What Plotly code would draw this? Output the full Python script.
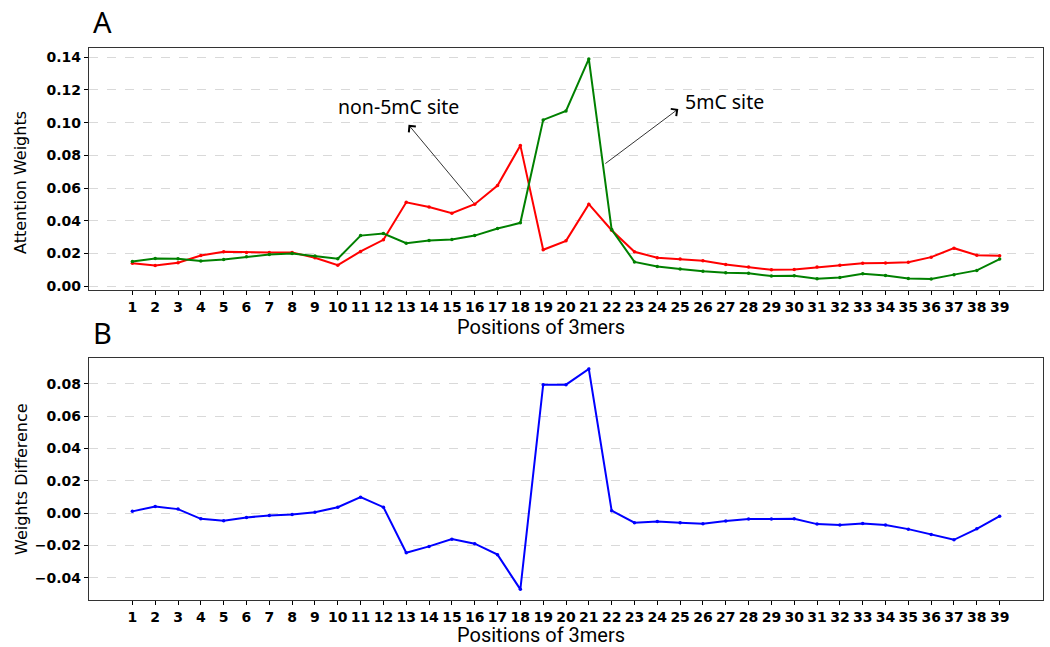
import plotly.graph_objects as go
from plotly.subplots import make_subplots

# 3-mer positions along the sequence window
positions = list(range(1, 40))

# Attention weights at each 3-mer position
non_5mc_weights = [
    0.0139, 0.0126, 0.0143, 0.0187, 0.0210, 0.0206, 0.0206, 0.0206, 0.0173, 0.0128,
    0.0212, 0.0283, 0.0513, 0.0484, 0.0446, 0.0501, 0.0615, 0.0861, 0.0222, 0.0277,
    0.0501, 0.0342, 0.0210, 0.0173, 0.0165, 0.0155, 0.0132, 0.0116, 0.0100, 0.0102,
    0.0116, 0.0128, 0.0140, 0.0142, 0.0146, 0.0177, 0.0232, 0.0189, 0.0185,
]
five_mc_weights = [
    0.0151, 0.0169, 0.0167, 0.0153, 0.0163, 0.0179, 0.0193, 0.0200, 0.0184, 0.0167,
    0.0309, 0.0322, 0.0262, 0.0279, 0.0285, 0.0309, 0.0352, 0.0387, 0.1017, 0.1072,
    0.1390, 0.0346, 0.0148, 0.0120, 0.0104, 0.0090, 0.0082, 0.0078, 0.0061, 0.0063,
    0.0045, 0.0053, 0.0076, 0.0065, 0.0047, 0.0043, 0.0070, 0.0096, 0.0165,
]
# Difference of attention weights (5mC minus non-5mC)
weight_difference = [
    0.0011, 0.0041, 0.0025, -0.0035, -0.0047, -0.0027, -0.0014, -0.0008, 0.0006, 0.0037,
    0.0099, 0.0037, -0.0245, -0.0206, -0.0161, -0.0189, -0.0257, -0.0472, 0.0796, 0.0796,
    0.0893, 0.0015, -0.0059, -0.0051, -0.0059, -0.0066, -0.0049, -0.0037, -0.0037, -0.0035,
    -0.0068, -0.0074, -0.0064, -0.0074, -0.0099, -0.0132, -0.0165, -0.0097, -0.0019,
]

top_ticks = [0.00, 0.02, 0.04, 0.06, 0.08, 0.10, 0.12, 0.14]
bottom_ticks = [-0.04, -0.02, 0.00, 0.02, 0.04, 0.06, 0.08]

W, H = 1050, 647
fig = make_subplots(rows=2, cols=1)

fig.add_trace(go.Scatter(
    x=positions, y=non_5mc_weights, mode="lines+markers", name="non-5mC site",
    line=dict(color="#ff0000", width=2), marker=dict(size=3.5, color="#ff0000"),
), row=1, col=1)
fig.add_trace(go.Scatter(
    x=positions, y=five_mc_weights, mode="lines+markers", name="5mC site",
    line=dict(color="#008000", width=2), marker=dict(size=3.5, color="#008000"),
), row=1, col=1)
fig.add_trace(go.Scatter(
    x=positions, y=weight_difference, mode="lines+markers", name="difference",
    line=dict(color="#0000ff", width=2), marker=dict(size=3.5, color="#0000ff"),
), row=2, col=1)

tick_font = dict(family="DejaVu Sans", size=14, color="black", weight="bold")
title_font = dict(family="Roboto", size=20, color="black")
ylab_font = dict(family="DejaVu Sans", size=16, color="black")
note_font = dict(family="Noto Sans", size=19.5, color="black")
panel_font = dict(family="Noto Sans", size=29, color="black")

common_x = dict(
    range=[-0.9, 40.9], tickmode="array", tickvals=positions,
    ticktext=[str(p) for p in positions], tickfont=tick_font,
    ticks="outside", ticklen=4, tickwidth=1, tickcolor="black",
    showline=True, linecolor="#333333", linewidth=1.3, mirror=True,
    showgrid=False, zeroline=False, automargin=False,
)
common_y = dict(
    tickfont=tick_font, tickformat=".2f",
    ticks="outside", ticklen=4, tickwidth=1, tickcolor="black",
    showline=True, linecolor="#333333", linewidth=1.3, mirror=True,
    showgrid=True, gridcolor="#d9d9d9", griddash="dash", gridwidth=1,
    zeroline=False, automargin=False,
)

x_dom = [89 / W, 1043 / W]
fig.update_xaxes(**common_x, domain=x_dom, row=1, col=1)
fig.update_xaxes(**common_x, domain=x_dom, row=2, col=1)
fig.update_yaxes(**common_y, range=[-0.0024, 0.1457], tickvals=top_ticks,
                 domain=[1 - 290 / H, 1 - 48 / H], row=1, col=1)
fig.update_yaxes(**common_y, range=[-0.0538, 0.0961], tickvals=bottom_ticks,
                 domain=[1 - 600 / H, 1 - 358 / H], row=2, col=1)


def paper_text(text, px, py, font, angle=0):
    return dict(text=text, xref="paper", yref="paper", x=px / W, y=1 - py / H,
                xanchor="center", yanchor="middle", textangle=angle,
                borderpad=0, showarrow=False, font=font)


annotations = [
    # panel letters
    paper_text("A", 102, 22, panel_font),
    paper_text("B", 102, 332, panel_font),
    # axis titles
    paper_text("Positions of 3mers", 541, 326.5, title_font),
    paper_text("Positions of 3mers", 541, 634.5, title_font),
    paper_text("Attention Weights", 20, 183, ylab_font, angle=-90),
    paper_text("Weights Difference", 22, 479, ylab_font, angle=-90),
    # site labels
    dict(text="non-5mC site", xref="x", yref="y", x=12.66, y=0.1100,
         xanchor="center", yanchor="middle", showarrow=False, font=note_font),
    dict(text="5mC site", xref="x", yref="y", x=26.96, y=0.1127,
         xanchor="center", yanchor="middle", showarrow=False, font=note_font),
    # pointer arrows from the curves toward the labels
    dict(text="", xref="x", yref="y", axref="x", ayref="y",
         x=13.1, y=0.0987, ax=16.0, ay=0.0501,
         showarrow=True, arrowhead=4, arrowsize=2.2, arrowwidth=0.8,
         arrowcolor="black", standoff=0, startstandoff=0),
    dict(text="", xref="x", yref="y", axref="x", ayref="y",
         x=24.92, y=0.1084, ax=21.66, ay=0.0743,
         showarrow=True, arrowhead=4, arrowsize=2.2, arrowwidth=0.8,
         arrowcolor="black", standoff=0, startstandoff=0),
]

fig.update_layout(
    width=W, height=H,
    margin=dict(l=0, r=0, t=0, b=0),
    paper_bgcolor="white", plot_bgcolor="white",
    showlegend=False,
    annotations=annotations,
)

fig.write_html("out.html")
